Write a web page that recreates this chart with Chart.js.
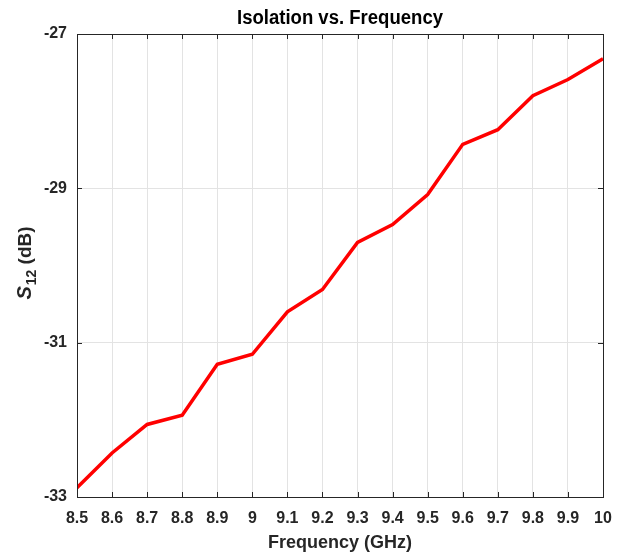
<!DOCTYPE html>
<html><head><meta charset="utf-8">
<script src="https://cdn.jsdelivr.net/npm/chart.js@4/dist/chart.umd.min.js"></script>
<style>html,body{margin:0;padding:0;background:#fff}#wrap{width:625px;height:556px;position:relative}</style>
</head><body><div id="wrap"><canvas id="c" width="625" height="556"></canvas></div>
<script>
const frequencyGHz = [8.5, 8.6, 8.7, 8.8, 8.9, 9.0, 9.1, 9.2, 9.3, 9.4, 9.5, 9.6, 9.7, 9.8, 9.9, 10.0];
const s12dB = [-32.88, -32.43, -32.06, -31.94, -31.28, -31.15, -30.60, -30.31, -29.70, -29.47, -29.08, -28.43, -28.24, -27.80, -27.59, -27.32];
const yTicks = [-33, -31, -29, -27];
const xTickLabels = ['8.5','8.6','8.7','8.8','8.9','9','9.1','9.2','9.3','9.4','9.5','9.6','9.7','9.8','9.9','10'];
const titleText = 'Isolation vs. Frequency';
const xTitle = 'Frequency (GHz)';

const FONT = "'Liberation Sans',Arial,sans-serif";
const AX = '#262626';

const boxPlugin = {
  id: 'boxPlugin',
  afterDraw(chart) {
    const {ctx, chartArea: a, scales} = chart;
    ctx.save();
    ctx.strokeStyle = AX; ctx.lineWidth = 1;
    const L = 5;
    scales.x.ticks.forEach(t => {
      const x = Math.round(scales.x.getPixelForValue(t.value)) + 0.5;
      ctx.beginPath();
      ctx.moveTo(x, a.bottom); ctx.lineTo(x, a.bottom - L);
      ctx.moveTo(x, a.top); ctx.lineTo(x, a.top + L);
      ctx.stroke();
    });
    scales.y.ticks.forEach(t => {
      const y = Math.round(scales.y.getPixelForValue(t.value)) + 0.5;
      ctx.beginPath();
      ctx.moveTo(a.left, y); ctx.lineTo(a.left + L, y);
      ctx.moveTo(a.right, y); ctx.lineTo(a.right - L, y);
      ctx.stroke();
    });
    ctx.strokeRect(Math.round(a.left) + 0.5, Math.round(a.top) + 0.5, Math.round(a.right - a.left), Math.round(a.bottom - a.top));
    // title (slightly condensed)
    ctx.save();
    ctx.fillStyle = '#000';
    ctx.font = "bold 20px " + FONT;
    ctx.textAlign = 'center'; ctx.textBaseline = 'middle';
    const tw = ctx.measureText(titleText).width;
    const sx = 206 / tw;
    ctx.translate((a.left + a.right) / 2, 18);
    ctx.scale(sx, 1);
    ctx.fillText(titleText, 0, 0);
    ctx.restore();
    // y title with subscript
    ctx.translate(25, (a.top + a.bottom) / 2 - 2);
    ctx.rotate(-Math.PI / 2);
    ctx.fillStyle = AX;
    ctx.textBaseline = 'alphabetic'; ctx.textAlign = 'left';
    const f1 = "italic bold 20px " + FONT, f2 = "bold 14px " + FONT, f3 = "bold 19px " + FONT;
    ctx.font = f1; const w1 = ctx.measureText('S').width;
    ctx.font = f2; const w2 = ctx.measureText('12').width;
    ctx.font = f3; const w3 = ctx.measureText(' (dB)').width;
    let x0 = -(w1 + w2 + w3) / 2;
    const base = 6;
    ctx.font = f1; ctx.fillText('S', x0, base); x0 += w1 + 1;
    ctx.font = f2; ctx.fillText('12', x0, base + 5); x0 += w2;
    ctx.font = f3; ctx.fillText(' (dB)', x0, base);
    ctx.restore();
  }
};

new Chart(document.getElementById('c'), {
  type: 'line',
  data: {
    datasets: [{
      data: frequencyGHz.map((f, i) => ({x: f, y: s12dB[i]})),
      borderColor: '#ff0000',
      borderWidth: 3.5,
      pointRadius: 0,
      fill: false,
      tension: 0
    }]
  },
  options: {
    responsive: false,
    animation: false,
    layout: {padding: {top: 34, right: 22, left: 0, bottom: 0}},
    plugins: {legend: {display: false}, tooltip: {enabled: false}, title: {display: false}},
    scales: {
      x: {
        type: 'linear', min: 8.5, max: 10,
        afterBuildTicks(s) { s.ticks = frequencyGHz.map(v => ({value: v})); },
        afterFit(s) { s.height = 59; },
        grid: {color: '#e3e3e3', drawTicks: false},
        border: {display: false},
        ticks: {
          color: AX, padding: 12, maxRotation: 0, autoSkip: false,
          font: {family: FONT, size: 16, weight: 'bold'},
          callback: (v, i) => xTickLabels[i]
        },
        title: {display: true, text: xTitle, color: AX, font: {family: FONT, size: 18, weight: 'bold'}, padding: {top: 0, bottom: 2}}
      },
      y: {
        min: -33, max: -27,
        afterBuildTicks(s) { s.ticks = yTicks.map(v => ({value: v})); },
        afterFit(s) { s.width = 77; },
        grid: {color: '#e3e3e3', drawTicks: false},
        border: {display: false},
        ticks: {
          color: AX, padding: 10,
          font: {family: FONT, size: 16, weight: 'bold'},
          callback: v => String(v)
        }
      }
    }
  },
  plugins: [boxPlugin]
});
</script></body></html>
